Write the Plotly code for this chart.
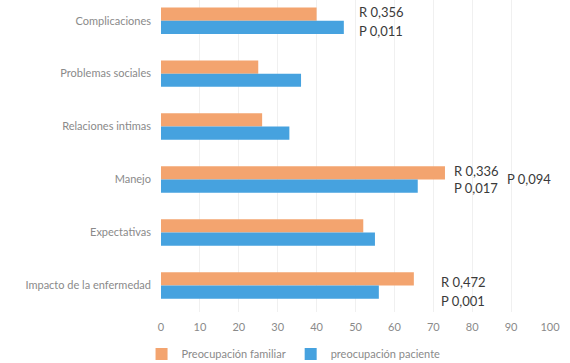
import plotly.graph_objects as go

categories = ["Complicaciones", "Problemas sociales", "Relaciones intimas",
              "Manejo", "Expectativas", "Impacto de la enfermedad"]
familiar = [40, 25, 26, 73, 52, 65]
paciente = [47, 36, 33, 66, 55, 56]
tick_vals = [0, 10, 20, 30, 40, 50, 60, 70, 80, 90, 100]

# annotations: (category, x, offset in category units, text)
notes = [
    ("Complicaciones", 50.5, -0.17, "R 0,356"),
    ("Complicaciones", 50.5, 0.19, "P 0,011"),
    ("Manejo", 74.8, -0.17, "R 0,336"),
    ("Manejo", 74.8, 0.15, "P 0,017"),
    ("Manejo", 88.5, -0.01, "P 0,094"),
    ("Impacto de la enfermedad", 71.5, -0.07, "R 0,472"),
    ("Impacto de la enfermedad", 71.5, 0.29, "P 0,001"),
]

orange = "#F3A46F"
blue = "#46A2DF"

idx = list(range(len(categories)))

fig = go.Figure()
fig.add_trace(go.Bar(y=idx, x=familiar, orientation="h", name="Preocupación familiar",
                     marker=dict(color=orange, line=dict(width=0))))
fig.add_trace(go.Bar(y=idx, x=paciente, orientation="h", name="preocupación paciente",
                     marker=dict(color=blue, line=dict(width=0))))

for cat, xv, off, txt in notes:
    fig.add_annotation(x=xv, y=categories.index(cat) + off, xref="x", yref="y",
                       text=txt, showarrow=False, xanchor="left", yanchor="middle",
                       font=dict(family="Lato, sans-serif", size=13, color="#3a3a3a"))

fig.update_layout(
    width=570, height=363,
    margin=dict(l=161, r=20, t=0, b=51, autoexpand=False),
    barmode="group", bargap=0.5, bargroupgap=0,
    paper_bgcolor="white", plot_bgcolor="white",
    font=dict(family="Lato, sans-serif", color="#8a8a8a", size=11),
    xaxis=dict(range=[0, 100], tickvals=tick_vals, showgrid=True,
               gridcolor="#f0f0f0", gridwidth=1, zeroline=False, showline=False,
               ticks="", ticklabelstandoff=7, automargin=False,
               tickfont=dict(size=11, color="#8a8a8a")),
    yaxis=dict(range=[5.5, -0.39], tickvals=idx, ticktext=categories,
               showgrid=False, zeroline=False, showline=False, ticks="",
               ticklabelstandoff=9, automargin=False,
               tickfont=dict(size=11, color="#8a8a8a")),
    legend=dict(orientation="h", x=-0.05, xanchor="left", y=-0.135, yanchor="middle",
                font=dict(size=11, color="#8a8a8a"), itemwidth=30,
                traceorder="normal"),
    showlegend=True,
)

fig.write_html("out.html", config={"displayModeBar": False},
               post_script="document.body.style.margin='0';document.body.style.overflow='hidden';")
